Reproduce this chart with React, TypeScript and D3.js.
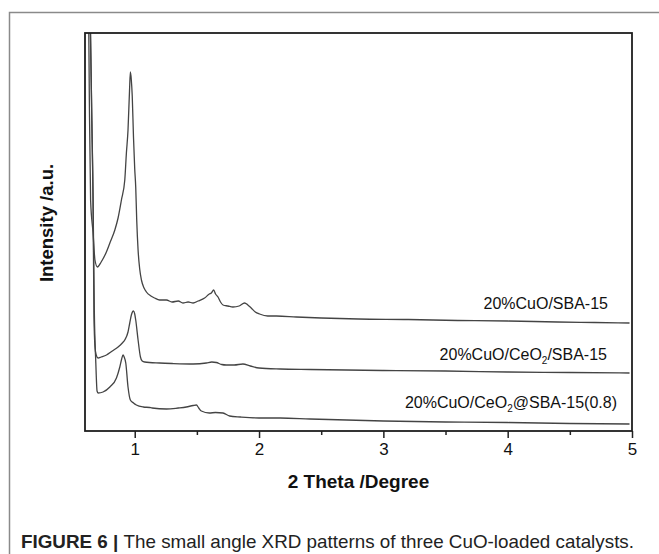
import React, { useEffect, useRef } from "react";
import * as d3 from "d3";

// ---- values: [2 theta (deg), intensity (a.u.)] ----
const cuoSba15: [number, number][] = [
  [0.615, 560], [0.625, 480], [0.635, 331], [0.645, 231], [0.665, 198], [0.68, 171],
  [0.7, 164], [0.73, 169], [0.772, 179], [0.8, 188], [0.84, 201], [0.866, 213],
  [0.893, 231], [0.92, 251], [0.933, 278], [0.946, 301], [0.958, 340], [0.965, 359],
  [0.972, 352], [0.98, 335], [0.99, 294], [1.0, 262], [1.008, 244], [1.016, 211],
  [1.027, 181], [1.04, 162], [1.054, 151], [1.075, 143], [1.094, 139], [1.13, 135],
  [1.16, 133], [1.2, 131], [1.255, 131], [1.3, 129], [1.35, 130], [1.388, 128],
  [1.43, 129], [1.47, 128], [1.51, 130], [1.562, 133], [1.6, 137], [1.616, 138],
  [1.635, 141], [1.65, 137], [1.67, 134], [1.69, 129], [1.71, 126], [1.75, 125],
  [1.79, 124], [1.84, 125], [1.884, 128], [1.91, 126], [1.937, 123], [1.97, 119],
  [2.004, 117], [2.07, 115], [2.14, 115], [2.3, 114], [2.5, 113], [2.8, 112],
  [3.2, 111.5], [3.6, 110.5], [4.0, 110], [4.4, 109], [4.7, 108.5], [4.98, 108],
];

const cuoCeo2Sba15: [number, number][] = [
  [0.615, 560], [0.64, 430], [0.655, 310], [0.665, 231], [0.672, 115], [0.68, 85],
  [0.69, 76], [0.705, 73], [0.73, 74], [0.773, 76], [0.82, 80], [0.866, 84],
  [0.9, 88], [0.92, 91], [0.946, 99], [0.96, 108], [0.973, 116], [0.99, 120],
  [1.0, 117], [1.008, 111], [1.027, 91], [1.046, 74], [1.06, 70], [1.08, 69],
  [1.2, 68], [1.3, 67.5], [1.47, 67], [1.576, 68], [1.62, 69], [1.656, 68.5],
  [1.7, 66.5], [1.736, 66], [1.8, 66], [1.87, 67], [1.93, 65], [2.0, 63],
  [2.17, 62], [2.41, 61.5], [3.0, 60.5], [3.5, 60], [4.0, 59], [4.5, 58.5], [4.98, 58],
];

const cuoCeo2AtSba15: [number, number][] = [
  [0.615, 560], [0.64, 430], [0.655, 310], [0.665, 231], [0.675, 120], [0.687, 68],
  [0.697, 40], [0.705, 38], [0.745, 39], [0.8, 44], [0.853, 53], [0.88, 64],
  [0.895, 72], [0.906, 76], [0.915, 74], [0.928, 68], [0.946, 44], [0.965, 31],
  [0.99, 28], [1.013, 26], [1.07, 24], [1.12, 23.5], [1.14, 23],
  [1.255, 22], [1.35, 23], [1.415, 24], [1.47, 25.5], [1.496, 26], [1.515, 23],
  [1.536, 20], [1.6, 18], [1.65, 18.5], [1.71, 18], [1.763, 15], [1.85, 14],
  [2.0, 13], [2.17, 13], [2.41, 12], [3.0, 10], [3.5, 9], [4.0, 8.5], [4.5, 7.5], [4.98, 7],
];

const majorTicks = [1, 2, 3, 4, 5];
const minorTicks = [1.5, 2.5, 3.5, 4.5];
const xDomain: [number, number] = [0.6, 5];
const yDomain: [number, number] = [0, 398];

const FONT = "Arial, 'Liberation Sans', Helvetica, sans-serif";

export default function App() {
  const ref = useRef<SVGSVGElement>(null);

  useEffect(() => {
    const svg = d3.select(ref.current);
    svg.selectAll("*").remove();

    const width = 659;
    const height = 554;
    const margin = { top: 33, right: 27, bottom: 123, left: 85 };
    const bw = width - margin.left - margin.right;
    const bh = height - margin.top - margin.bottom;

    // outer figure frame (runs off the right/bottom edges)
    svg.append("rect")
      .attr("x", 9.5).attr("y", 12.5)
      .attr("width", 700).attr("height", 600)
      .attr("fill", "none").attr("stroke", "#8a8a8a").attr("stroke-width", 1.5);

    const bounds = svg.append("g")
      .attr("transform", `translate(${margin.left},${margin.top})`);

    const xScale = d3.scaleLinear().domain(xDomain).range([0, bw]);
    const yScale = d3.scaleLinear().domain(yDomain).range([bh, 0]);

    bounds.append("clipPath").attr("id", "plotClip")
      .append("rect").attr("width", bw).attr("height", bh);

    const line = d3.line<[number, number]>()
      .x((d) => xScale(d[0]))
      .y((d) => yScale(d[1]))
      .curve(d3.curveMonotoneX);

    [cuoSba15, cuoCeo2Sba15, cuoCeo2AtSba15].forEach((s) => {
      bounds.append("path")
        .datum(s)
        .attr("clip-path", "url(#plotClip)")
        .attr("fill", "none")
        .attr("stroke", "#444")
        .attr("stroke-width", 1.3)
        .attr("d", line);
    });

    // axes
    const xAxis = bounds.append("g")
      .attr("transform", `translate(0,${bh})`)
      .call(d3.axisBottom(xScale).tickValues(majorTicks).tickSize(7).tickSizeOuter(0)
        .tickFormat(d3.format("d")));
    xAxis.select(".domain").remove();
    xAxis.selectAll(".tick line").attr("stroke", "#222").attr("stroke-width", 1.5);
    xAxis.selectAll(".tick text")
      .attr("y", 12).attr("dy", "0.71em")
      .attr("fill", "#111")
      .style("font-family", FONT).style("font-size", "17px");

    const xMinor = bounds.append("g")
      .attr("transform", `translate(0,${bh})`)
      .call(d3.axisBottom(xScale).tickValues(minorTicks).tickSize(4).tickFormat(() => ""));
    xMinor.select(".domain").remove();
    xMinor.selectAll(".tick line").attr("stroke", "#222").attr("stroke-width", 1.5);

    // frame
    bounds.append("rect")
      .attr("width", bw).attr("height", bh)
      .attr("fill", "none").attr("stroke", "#1e1e1e").attr("stroke-width", 1.8);

    // series labels
    const labels = [
      { x: 608, y: 309, parts: [["20%CuO/SBA-15", 0]] },
      { x: 607, y: 360, parts: [["20%CuO/CeO", 0], ["2", 1], ["/SBA-15", 0]] },
      { x: 617, y: 408, parts: [["20%CuO/CeO", 0], ["2", 1], ["@SBA-15(0.8)", 0]] },
    ];
    labels.forEach((l) => {
      const t = svg.append("text")
        .attr("x", l.x).attr("y", l.y)
        .attr("text-anchor", "end")
        .attr("fill", "#111")
        .style("font-family", FONT).style("font-size", "16px");
      let sub = false;
      l.parts.forEach(([str, s]) => {
        const ts = t.append("tspan").text(str as string);
        if (s) {
          ts.attr("dy", 4).style("font-size", "10px");
          sub = true;
        } else if (sub) {
          ts.attr("dy", -4);
          sub = false;
        }
      });
    });

    // axis titles
    svg.append("text")
      .attr("x", margin.left + bw / 2).attr("y", 488)
      .attr("text-anchor", "middle").attr("fill", "#111")
      .style("font-family", FONT).style("font-size", "19px").style("font-weight", "bold")
      .text("2 Theta /Degree");

    svg.append("text")
      .attr("transform", "translate(53,223) rotate(-90)")
      .attr("text-anchor", "middle").attr("fill", "#111")
      .style("font-family", FONT).style("font-size", "18.5px").style("font-weight", "bold")
      .text("Intensity /a.u.");

    // caption
    const cap = svg.append("text")
      .attr("x", 21).attr("y", 548)
      .attr("fill", "#222")
      .attr("textLength", 613).attr("lengthAdjust", "spacingAndGlyphs")
      .style("font-family", "'Liberation Sans Narrow', " + FONT).style("font-size", "19px");
    cap.append("tspan").style("font-weight", "bold").text("FIGURE 6 | ");
    cap.append("tspan").text("The small angle XRD patterns of three CuO-loaded catalysts.");
  }, []);

  return (
    <svg
      ref={ref}
      width={659}
      height={554}
      style={{ position: "absolute", left: 0, top: 0, background: "#fff" }}
    />
  );
}
